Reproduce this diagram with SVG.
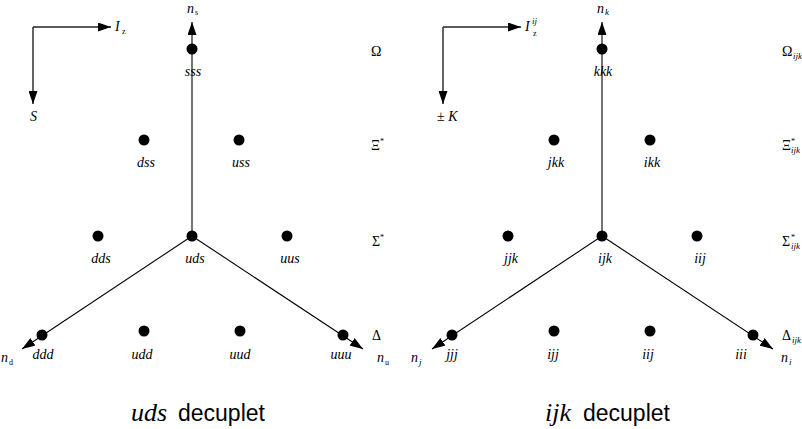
<svg xmlns="http://www.w3.org/2000/svg" width="802" height="429" viewBox="0 0 802 429">
<style>
.lbl{font-family:"Liberation Serif",serif;font-style:italic;font-size:14px;text-anchor:middle;fill:#000}
.it{font-family:"Liberation Serif",serif;font-style:italic;font-size:14px;fill:#000}
.gr{font-family:"Liberation Serif",serif;font-size:14px;fill:#000}
.sub{font-family:"Liberation Serif",serif;font-size:8px;fill:#000}
.subi{font-family:"Liberation Serif",serif;font-style:italic;font-size:9px;fill:#000}
.cap{font-family:"Liberation Sans",sans-serif;font-size:23px;fill:#000}
.capm{font-family:"Liberation Serif",serif;font-style:italic;font-size:26px;fill:#000}
.ax{stroke:#000;stroke-width:1.1;fill:none;marker-end:url(#ah)}
.ax2{stroke:#222;stroke-width:1.4;fill:none;marker-end:url(#ah)}
circle{fill:#000}
</style>
<defs>
<marker id="ah" viewBox="0 0 13 9" refX="13" refY="4.5" markerWidth="13" markerHeight="9" orient="auto" markerUnits="userSpaceOnUse">
<path d="M0,0 L13,4.5 L0,9 z" fill="#000"/>
</marker>
</defs>
<rect width="802" height="429" fill="#fff"/>
<g id="connectors">
<line class="ax2" x1="33" y1="27" x2="111" y2="27"/>
<line class="ax2" x1="33" y1="27" x2="33" y2="104"/>
<line class="ax" x1="192" y1="236" x2="192" y2="22"/>
<line class="ax" x1="192" y1="236" x2="22" y2="349"/>
<line class="ax" x1="192" y1="236" x2="363" y2="349"/>
<line class="ax2" x1="443" y1="27" x2="521" y2="27"/>
<line class="ax2" x1="443" y1="27" x2="443" y2="104"/>
<line class="ax" x1="602" y1="236" x2="602" y2="22"/>
<line class="ax" x1="602" y1="236" x2="432" y2="349"/>
<line class="ax" x1="602" y1="236" x2="773" y2="349"/>
</g>
<g id="axis-labels-left">
<text class="it" x="115" y="31">I</text><text class="sub" x="122" y="34">z</text>
<text class="it" x="30" y="121">S</text>
<text class="it" x="187" y="13">n</text><text class="sub" x="195" y="15">s</text>
<text class="it" x="1" y="362">n</text><text class="sub" x="9" y="365">d</text>
<text class="it" x="377" y="362">n</text><text class="sub" x="385" y="365">u</text>
</g>
<g id="axis-labels-right">
<text class="it" x="525" y="31">I</text><text class="subi" x="532" y="24">ij</text><text class="sub" x="533" y="36">z</text>
<text class="gr" x="437" y="121">± <tspan font-style="italic">K</tspan></text>
<text class="it" x="597" y="13">n</text><text class="subi" x="605" y="15">k</text>
<text class="it" x="411" y="362">n</text><text class="subi" x="419" y="365">j</text>
<text class="it" x="781" y="362">n</text><text class="subi" x="789" y="365">i</text>
</g>
<g id="multiplets-left">
<text class="gr" x="371" y="56">Ω</text>
<text class="gr" x="371" y="150">Ξ</text><text class="sub" x="380" y="144">*</text>
<text class="gr" x="372" y="246">Σ</text><text class="sub" x="380" y="240">*</text>
<text class="gr" x="372" y="340">Δ</text>
</g>
<g id="multiplets-right">
<text class="gr" x="782" y="56">Ω</text><text class="subi" x="793" y="59">ijk</text>
<text class="gr" x="782" y="150">Ξ</text><text class="sub" x="791" y="144">*</text><text class="subi" x="791" y="153">ijk</text>
<text class="gr" x="782" y="246">Σ</text><text class="sub" x="791" y="240">*</text><text class="subi" x="791" y="249">ijk</text>
<text class="gr" x="782" y="340">Δ</text><text class="subi" x="792" y="343">ijk</text>
</g>
<g id="n-sss"><circle cx="192" cy="49" r="5.5"/><text class="lbl" x="193" y="76">sss</text></g>
<g id="n-dss"><circle cx="144" cy="140" r="5.5"/><text class="lbl" x="146" y="167">dss</text></g>
<g id="n-uss"><circle cx="239" cy="140" r="5.5"/><text class="lbl" x="241" y="167">uss</text></g>
<g id="n-dds"><circle cx="98" cy="236" r="5.5"/><text class="lbl" x="101" y="263">dds</text></g>
<g id="n-uds"><circle cx="192" cy="236" r="5.5"/><text class="lbl" x="195" y="263">uds</text></g>
<g id="n-uus"><circle cx="287" cy="236" r="5.5"/><text class="lbl" x="290" y="263">uus</text></g>
<g id="n-ddd"><circle cx="42" cy="335" r="5.5"/><text class="lbl" x="43" y="359">ddd</text></g>
<g id="n-udd"><circle cx="144" cy="331" r="5.5"/><text class="lbl" x="142" y="359">udd</text></g>
<g id="n-uud"><circle cx="240" cy="331" r="5.5"/><text class="lbl" x="240" y="359">uud</text></g>
<g id="n-uuu"><circle cx="343" cy="335" r="5.5"/><text class="lbl" x="341" y="359">uuu</text></g>
<g id="n-kkk"><circle cx="602" cy="49" r="5.5"/><text class="lbl" x="603" y="76">kkk</text></g>
<g id="n-jkk"><circle cx="554" cy="140" r="5.5"/><text class="lbl" x="556" y="167">jkk</text></g>
<g id="n-ikk"><circle cx="650" cy="140" r="5.5"/><text class="lbl" x="652" y="167">ikk</text></g>
<g id="n-jjk"><circle cx="508" cy="236" r="5.5"/><text class="lbl" x="511" y="263">jjk</text></g>
<g id="n-ijk"><circle cx="602" cy="236" r="5.5"/><text class="lbl" x="605" y="263">ijk</text></g>
<g id="n-iij"><circle cx="697" cy="236" r="5.5"/><text class="lbl" x="700" y="263">iij</text></g>
<g id="n-jjj"><circle cx="452" cy="335" r="5.5"/><text class="lbl" x="452" y="359">jjj</text></g>
<g id="n-ijj"><circle cx="554" cy="331" r="5.5"/><text class="lbl" x="553" y="359">ijj</text></g>
<g id="n-iij2"><circle cx="650" cy="331" r="5.5"/><text class="lbl" x="648" y="359">iij</text></g>
<g id="n-iii"><circle cx="753" cy="335" r="5.5"/><text class="lbl" x="741" y="359">iii</text></g>
<g id="captions">
<text class="capm" x="131" y="421">uds</text><text class="cap" x="178" y="421">decuplet</text>
<text class="capm" x="545" y="421">ijk</text><text class="cap" x="583" y="421">decuplet</text>
</g>
</svg>
